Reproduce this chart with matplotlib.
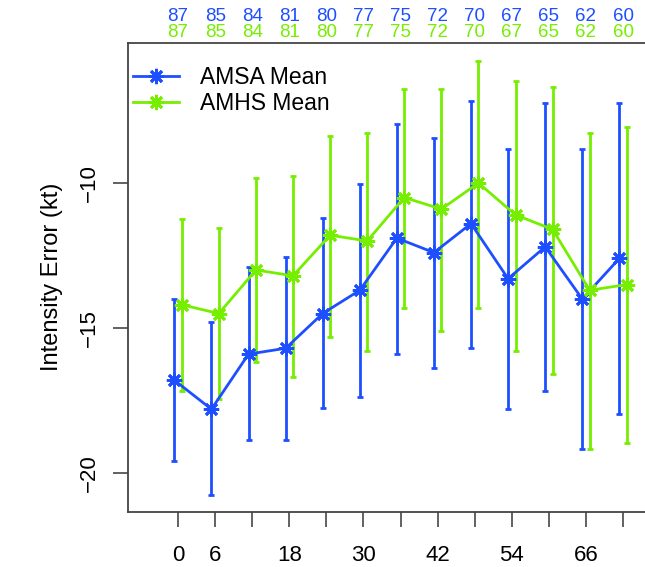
import matplotlib
matplotlib.use("Agg")
import matplotlib.pyplot as plt
import matplotlib.transforms as mtransforms
import numpy as np

plt.rcParams['font.family'] = ['Liberation Sans', 'DejaVu Sans']

# Forecast hours
hours = [0, 6, 12, 18, 24, 30, 36, 42, 48, 54, 60, 66, 72]
tick_labels = ["0", "6", "", "18", "", "30", "", "42", "", "54", "", "66", ""]

# Sample counts shown above the plot
amsa_n = [87, 85, 84, 81, 80, 77, 75, 72, 70, 67, 65, 62, 60]
amhs_n = [87, 85, 84, 81, 80, 77, 75, 72, 70, 67, 65, 62, 60]

# AMSA mean and error-bar limits
amsa_mean = [-16.8, -17.8, -15.9, -15.7, -14.5, -13.7, -11.9, -12.4, -11.4, -13.3, -12.2, -14.0, -12.6]
amsa_upper = [-14.0, -14.8, -12.9, -12.55, -11.2, -10.05, -7.95, -8.45, -7.17, -8.84, -7.25, -8.84, -7.25]
amsa_lower = [-19.57, -20.76, -18.86, -18.86, -17.77, -17.37, -15.9, -16.39, -15.7, -17.78, -17.18, -19.17, -17.98]

# AMHS mean and error-bar limits
amhs_mean = [-14.2, -14.5, -13.0, -13.2, -11.8, -12.0, -10.5, -10.9, -10.0, -11.1, -11.6, -13.7, -13.5]
amhs_upper = [-11.24, -11.54, -9.83, -9.76, -8.37, -8.27, -6.77, -6.77, -5.78, -6.47, -6.68, -8.27, -8.08]
amhs_lower = [-17.17, -17.46, -16.18, -16.68, -15.3, -15.78, -14.3, -15.1, -14.3, -15.79, -16.59, -19.17, -18.97]

blue = "#1E4FFF"
green = "#76EE00"

W, H = 645, 567
fig = plt.figure(figsize=(W / 100, H / 100), dpi=100)

left_px, top_px, bottom_px = 128, 42.5, 511.7
xmin, xmax = -8.1, 80.0
px_per_unit = (623 - 178) / 72.0
width_px = (xmax - xmin) * px_per_unit
ax = fig.add_axes([left_px / W, (H - bottom_px) / H, width_px / W, (bottom_px - top_px) / H])

off = 0.6
x = np.array(hours, dtype=float)
xa = x - off
xh = x + off

def draw(xx, mean, lo, up, color, label):
    mean = np.array(mean); lo = np.array(lo); up = np.array(up)
    ax.errorbar(xx, mean, yerr=[mean - lo, up - mean], fmt='none', ecolor=color,
                elinewidth=2.0, capsize=2.5, capthick=2.0, zorder=2)
    ax.plot(xx, mean, color=color, lw=2.0, marker=(8, 2, 0), markersize=11,
            markeredgewidth=2.0, label=label, zorder=3)

draw(xa, amsa_mean, amsa_lower, amsa_upper, blue, "AMSA Mean")
draw(xh, amhs_mean, amhs_lower, amhs_upper, green, "AMHS Mean")

ax.set_xlim(xmin, xmax)
ymax = -10 + (183 - top_px) / 29.0
ymin = -10 - (bottom_px - 183) / 29.0
ax.set_ylim(ymin, ymax)

ax.set_xticks(hours)
ax.set_xticklabels(tick_labels)
ax.set_yticks([-20, -15, -10])
ax.set_yticklabels(["\u221220", "\u221215", "\u221210"], rotation=90, va='center')

for s in ax.spines.values():
    s.set_color("#444444")
    s.set_linewidth(1.3)

ax.tick_params(axis='x', length=11, width=1.3, color="#555555", labelsize=16, pad=13)
ax.tick_params(axis='y', length=11, width=1.3, color="#555555", labelsize=16, pad=9)

ax.set_ylabel("Intensity Error (kt)", fontsize=17, labelpad=12)

leg = ax.legend(loc='upper left', bbox_to_anchor=(-0.024, 0.99), frameon=False,
                fontsize=16.5, handlelength=2.0, handletextpad=0.9,
                borderaxespad=0.4, labelspacing=0.15)

trans = mtransforms.blended_transform_factory(ax.transData, fig.transFigure)
for h, na, nh in zip(hours, amsa_n, amhs_n):
    ax.text(h, 1 - 16.7 / H, str(na), color=blue, fontsize=13.5, ha='center',
            va='center', transform=trans, clip_on=False)
    ax.text(h, 1 - 32.5 / H, str(nh), color=green, fontsize=13.5, ha='center',
            va='center', transform=trans, clip_on=False)

fig.savefig("out.png", dpi=100)
